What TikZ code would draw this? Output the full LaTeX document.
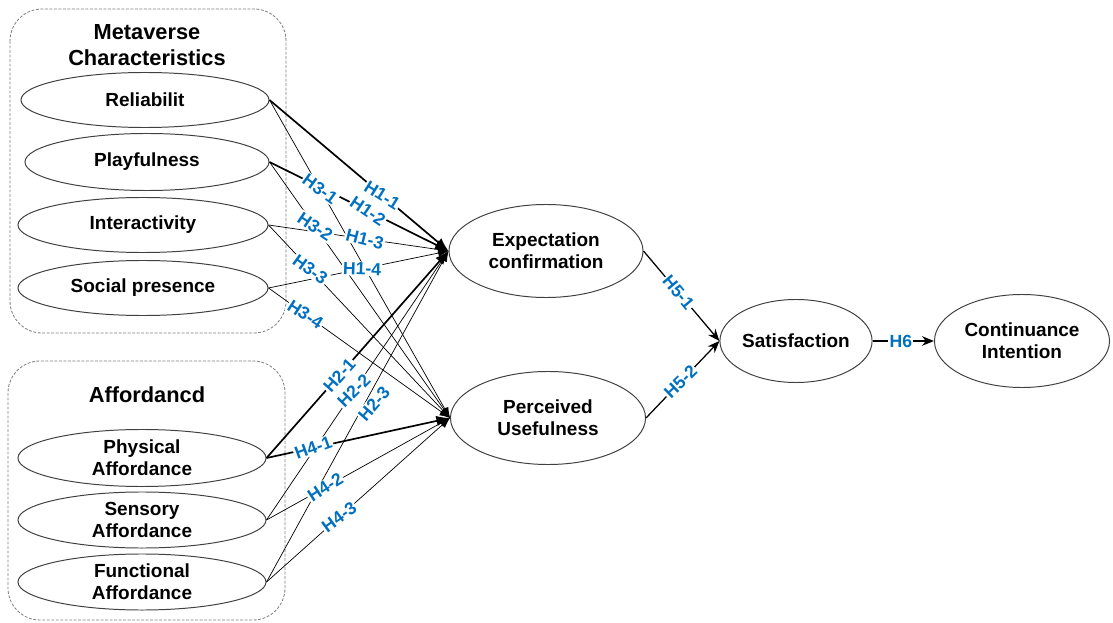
\documentclass[tikz,border=0pt]{standalone}
\usepackage{fontspec}
\setmainfont{Liberation Sans}
\usetikzlibrary{shapes.geometric,arrows.meta}
\definecolor{hypblue}{HTML}{0070C0}

\begin{document}
\begin{tikzpicture}[x=0.025cm, y=-0.025cm,
    construct/.style={ellipse, draw=black!75, line width=0.7pt, inner sep=0pt, align=center,
      font=\fontsize{13.5}{15.5}\selectfont\bfseries},
    group/.style={draw=black!50, dash pattern=on 2pt off 1.2pt, rounded corners=0.8cm, line width=0.6pt},
    grouptitle/.style={align=center, font=\fontsize{15.5}{18.5}\selectfont\bfseries},
    weak/.style={line width=0.5pt, -{Latex[length=2.6mm,width=2mm]}},
    strong/.style={line width=1.2pt, -{Latex[length=3.4mm,width=2.6mm]}},
    conn/.style={line width=0.9pt, -{Stealth[length=3mm,width=2.4mm]}},
    hyp/.style={fill=white, inner sep=0.8pt, text=hypblue,
      font=\fontsize{12.5}{14}\selectfont\bfseries}]
    \useasboundingbox (0,0) rectangle (1113,623);

    % groups
    \draw[group] (10,9) rectangle (286,333);
    \draw[group] (8,361) rectangle (285,620);
    \node[grouptitle] (mctitle) at (147,45) {Metaverse\\Characteristics};
    \node[grouptitle] (afftitle) at (147,395) {Affordancd};

    % constructs
    \node[construct, minimum width=6.2cm, minimum height=1.375cm] (rel) at (145,100) {Reliabilit};
    \node[construct, minimum width=6.1cm, minimum height=1.425cm] (play) at (147,162) {Playfulness};
    \node[construct, minimum width=6.25cm, minimum height=1.375cm] (inter) at (143,225) {Interactivity};
    \node[construct, minimum width=6.25cm, minimum height=1.375cm] (social) at (143,288) {Social presence};
    \node[construct, minimum width=6.2cm, minimum height=1.425cm] (phys) at (142,458) {Physical\\Affordance};
    \node[construct, minimum width=6.2cm, minimum height=1.4cm] (sens) at (142,520) {Sensory\\Affordance};
    \node[construct, minimum width=6.2cm, minimum height=1.4cm] (func) at (142,582) {Functional\\Affordance};

    \node[construct, minimum width=4.85cm, minimum height=2.325cm] (ec) at (546,251) {Expectation\\confirmation};
    \node[construct, minimum width=4.875cm, minimum height=2.325cm] (pu) at (548,418) {Perceived\\Usefulness};
    \node[construct, minimum width=3.675cm, minimum height=2.075cm] (sat) at (796,341) {Satisfaction};
    \node[construct, minimum width=4.375cm, minimum height=2.325cm] (ci) at (1022,341) {Continuance\\Intention};

    % paths into expectation confirmation
    \draw[strong] (rel.east) -- (ec.west);
    \draw[strong] (play.east) -- (ec.west);
    \draw[weak] (inter.east) -- (ec.west);
    \draw[weak] (social.east) -- (ec.west);
    \draw[strong] (phys.east) -- (ec.west);
    \draw[weak] (sens.east) -- (ec.west);
    \draw[weak] (func.east) -- (ec.west);

    % paths into perceived usefulness
    \draw[weak] (rel.east) -- (pu.west);
    \draw[weak] (play.east) -- (pu.west);
    \draw[weak] (inter.east) -- (pu.west);
    \draw[weak] (social.east) -- (pu.west);
    \draw[strong] (phys.east) -- (pu.west);
    \draw[weak] (sens.east) -- (pu.west);
    \draw[weak] (func.east) -- (pu.west);

    % hypothesis labels
    \path (rel.east) -- node[hyp, pos=0.63, rotate=-32] {H1-1} (ec.west);
    \path (play.east) -- node[hyp, pos=0.55, rotate=-34] {H1-2} (ec.west);
    \path (inter.east) -- node[hyp, pos=0.535, rotate=-14] {H1-3} (ec.west);
    \path (social.east) -- node[hyp, pos=0.52, rotate=-2] {H1-4} (ec.west);
    \path (phys.east) -- node[hyp, pos=0.40, rotate=48] {H2-1} (ec.west);
    \path (sens.east) -- node[hyp, pos=0.48, rotate=45] {H2-2} (ec.west);
    \path (func.east) -- node[hyp, pos=0.56, xshift=0.14cm, yshift=-0.18cm, rotate=49] {H2-3} (ec.west);
    \path (rel.east) -- node[hyp, pos=0.28, rotate=-36] {H3-1} (pu.west);
    \path (play.east) -- node[hyp, pos=0.253, rotate=-34] {H3-2} (pu.west);
    \path (inter.east) -- node[hyp, pos=0.23, rotate=-36] {H3-3} (pu.west);
    \path (social.east) -- node[hyp, pos=0.203, rotate=-33] {H3-4} (pu.west);
    \path (phys.east) -- node[hyp, pos=0.255, rotate=20] {H4-1} (pu.west);
    \path (sens.east) -- node[hyp, pos=0.32, rotate=33] {H4-2} (pu.west);
    \path (func.east) -- node[hyp, pos=0.396, rotate=36] {H4-3} (pu.west);

    % outcomes
    \draw[conn] (ec.east) -- node[hyp, pos=0.46, rotate=-50] {H5-1} (sat.west);
    \draw[conn] (pu.east) -- node[hyp, pos=0.47, rotate=44] {H5-2} (sat.west);
    \draw[conn] (sat.east) -- node[hyp, pos=0.46] {H6} (ci.west);
\end{tikzpicture}
\end{document}
